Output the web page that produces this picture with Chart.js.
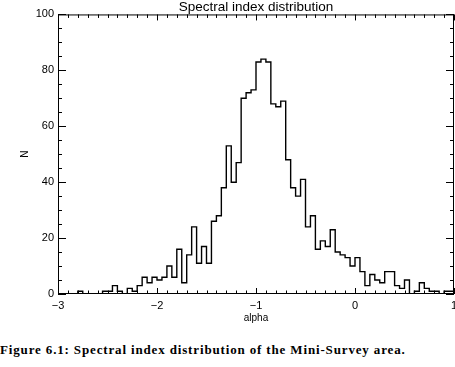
<!DOCTYPE html>
<html>
<head>
<meta charset="utf-8">
<script src="https://cdn.jsdelivr.net/npm/chart.js@4/dist/chart.umd.min.js"></script>
<style>
  body { margin: 0; background: #fff; }
  #wrap { position: relative; width: 455px; height: 330px; }
  #caption {
    position: absolute; left: 0; top: 342px;
    font: bold 13px "Liberation Serif", serif;
    letter-spacing: 0.85px;
    white-space: nowrap; color: #000;
  }
</style>
</head>
<body>
<div id="wrap"><canvas id="chart"></canvas></div>
<div id="caption">Figure 6.1: Spectral index distribution of the Mini-Survey area.</div>
<script>
// histogram of spectral index, bins of 0.05 from -3 to 1
const binStart = -3;
const binWidth = 0.05;
const counts = [
  0, 0, 0, 0, 0, 1, 0, 0, 0, 0,
  1, 1, 3, 1, 0, 2, 1, 3, 6, 4,
  6, 5, 6, 10, 6, 16, 4, 14, 24, 11,
  17, 11, 26, 28, 38, 53, 40, 47, 70, 72,
  73, 83, 84, 83, 68, 67, 69, 48, 38, 35,
  41, 24, 28, 16, 19, 17, 23, 15, 14, 13,
  10, 13, 8, 3, 7, 5, 4, 8, 8, 3,
  2, 5, 0, 1, 4, 2, 1, 1, 0, 1
];
const xTicks = [-3, -2, -1, 0, 1];
const xTickLabels = ["\u22123", "\u22122", "\u22121", "0", "1"];
const yTicks = [0, 20, 40, 60, 80, 100];

// step points at left bin edges, plus closing point at the right edge
const points = counts.map((c, i) => ({ x: +(binStart + i * binWidth).toFixed(2), y: c }));
points.push({ x: +(binStart + counts.length * binWidth).toFixed(2), y: counts[counts.length - 1] });

const labelFont = { family: "Liberation Sans", size: 11 };

// IDL-style frame with inward ticks on all four sides
const frameTicks = {
  id: "frameTicks",
  afterDraw(chart) {
    const { ctx, chartArea: a, scales: { x, y } } = chart;
    ctx.save();
    ctx.strokeStyle = "#000";
    ctx.lineWidth = 1;
    ctx.strokeRect(a.left + 0.5, a.top + 0.5, a.right - a.left - 1, a.bottom - a.top - 1);
    ctx.beginPath();
    for (let i = 0; i <= 40; i++) {
      const px = Math.round(x.getPixelForValue(-3 + i * 0.1)) + 0.5;
      const len = i % 10 === 0 ? 6 : 3.5;
      ctx.moveTo(px, a.bottom); ctx.lineTo(px, a.bottom - len);
      ctx.moveTo(px, a.top); ctx.lineTo(px, a.top + len);
    }
    for (let v = 0; v <= 100; v += 5) {
      const py = Math.round(y.getPixelForValue(v)) + 0.5;
      const len = v % 20 === 0 ? 8 : 4;
      ctx.moveTo(a.left, py); ctx.lineTo(a.left + len, py);
      ctx.moveTo(a.right, py); ctx.lineTo(a.right - len, py);
    }
    ctx.stroke();
    ctx.restore();
  }
};

new Chart(document.getElementById("chart"), {
  type: "line",
  data: {
    datasets: [{
      data: points,
      stepped: "after",
      borderColor: "#000",
      borderWidth: 1.4,
      pointRadius: 0,
      fill: false
    }]
  },
  options: {
    responsive: true,
    maintainAspectRatio: false,
    animation: false,
    layout: { padding: { left: 0, right: 1, top: 0, bottom: 0 } },
    plugins: {
      legend: { display: false },
      tooltip: { enabled: false },
      title: {
        display: true,
        text: "Spectral index distribution",
        fullSize: false,
        color: "#000",
        font: { family: "Liberation Sans", size: 13.5, weight: "normal", lineHeight: 1.07 },
        padding: { top: 0, bottom: 0 }
      }
    },
    scales: {
      x: {
        type: "linear",
        min: -3,
        max: 1,
        afterFit: s => { s.height = 36; s.paddingLeft = 0; s.paddingRight = 0; },
        afterBuildTicks: s => { s.ticks = xTicks.map(v => ({ value: v })); },
        grid: { display: false, drawTicks: false },
        border: { display: false },
        ticks: {
          color: "#000",
          font: labelFont,
          padding: 5,
          maxRotation: 0,
          callback: v => xTickLabels[xTicks.indexOf(v)]
        },
        title: {
          display: true,
          text: "alpha",
          color: "#000",
          font: { family: "Liberation Sans", size: 10, lineHeight: 1.2 },
          padding: { top: 0, bottom: 6 }
        }
      },
      y: {
        min: 0,
        max: 100,
        afterFit: s => { s.width = 58; s.paddingTop = 0; s.paddingBottom = 0; },
        afterBuildTicks: s => { s.ticks = yTicks.map(v => ({ value: v })); },
        grid: { display: false, drawTicks: false },
        border: { display: false },
        ticks: { color: "#000", font: labelFont, padding: 4 },
        title: {
          display: true,
          text: "N",
          color: "#000",
          font: { family: "Liberation Sans", size: 10, lineHeight: 1.2 },
          padding: { top: 19, bottom: 0 }
        }
      }
    }
  },
  plugins: [frameTicks]
});
</script>
</body>
</html>
